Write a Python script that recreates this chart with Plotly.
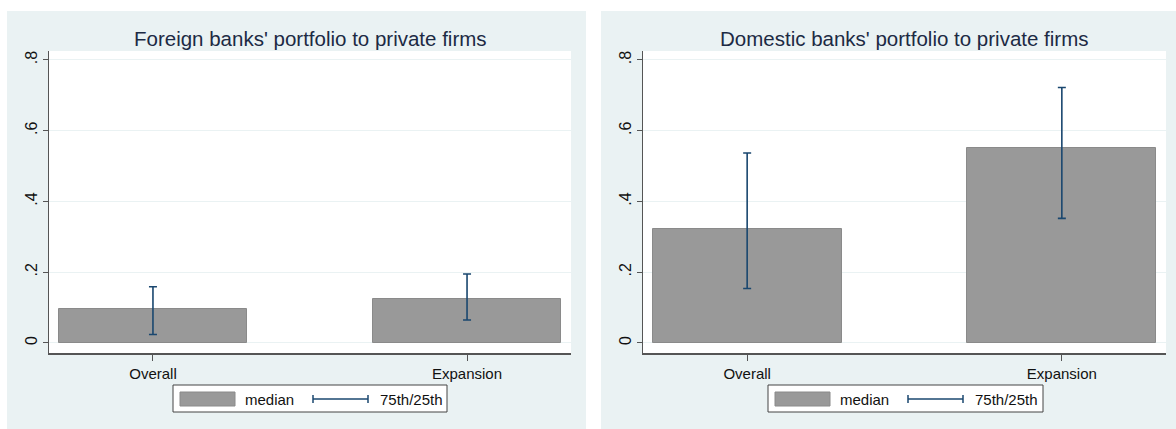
import plotly.graph_objects as go

# Portfolio share to private firms: median with 25th/75th percentiles
categories = ["Overall", "Expansion"]

foreign_median = [0.097, 0.125]
foreign_p25 = [0.024, 0.065]
foreign_p75 = [0.159, 0.195]

domestic_median = [0.322, 0.552]
domestic_p25 = [0.154, 0.352]
domestic_p75 = [0.537, 0.722]

y_tickvals = [0, 0.2, 0.4, 0.6, 0.8]
y_ticktext = ["0", ".2", ".4", ".6", ".8"]

panel_titles = ["Foreign banks' portfolio to private firms",
                "Domestic banks' portfolio to private firms"]

W, H = 1176, 429
FONT = "Liberation Sans, Arial, sans-serif"
BG = "#EAF2F3"
BAR = "#999999"
BAR_LINE = "#8a8a8a"
NAVY = "#1a476f"
AXIS = "#555555"


def px_x(x):
    return x / W


def px_y(y):
    return 1 - y / H


fig = go.Figure()

panels = [
    dict(bg=(7, 586), plot=(49, 571), med=foreign_median, lo=foreign_p25, hi=foreign_p75,
         legend=(173, 447)),
    dict(bg=(601, 1176), plot=(643, 1166), med=domestic_median, lo=domestic_p25, hi=domestic_p75,
         legend=(768, 1043)),
]

plot_top, plot_bot = 51, 353
shapes = []
annotations = []

for i, p in enumerate(panels):
    sfx = "" if i == 0 else str(i + 1)
    xa, ya = "x" + sfx, "y" + sfx

    # panel background
    shapes.append(dict(type="rect", xref="paper", yref="paper", layer="below",
                       x0=px_x(p["bg"][0]), x1=px_x(p["bg"][1]),
                       y0=px_y(429), y1=px_y(11), fillcolor=BG, line=dict(width=0)))

    fig.add_trace(go.Bar(
        x=[0, 1], y=p["med"], width=0.6,
        marker=dict(color=BAR, line=dict(color=BAR_LINE, width=1)),
        error_y=dict(type="data", symmetric=False,
                     array=[h - m for h, m in zip(p["hi"], p["med"])],
                     arrayminus=[m - l for m, l in zip(p["med"], p["lo"])],
                     color=NAVY, thickness=1.6, width=4),
        xaxis=xa, yaxis=ya, showlegend=False, hoverinfo="skip"))

    x0, x1 = p["plot"]
    fig.update_layout(**{
        "xaxis" + sfx: dict(domain=[px_x(x0), px_x(x1)], range=[-0.331, 1.331],
                            tickvals=[0, 1], ticktext=categories, ticks="outside",
                            ticklen=6, tickcolor=AXIS, tickwidth=1,
                            showline=True, linecolor=AXIS, linewidth=2,
                            showgrid=False, zeroline=False, anchor=ya,
                            tickfont=dict(family=FONT, size=15, color="#111111")),
        "yaxis" + sfx: dict(domain=[px_y(plot_bot), px_y(plot_top)], range=[-0.0283, 0.825],
                            tickvals=y_tickvals, ticktext=y_ticktext, tickangle=-90,
                            ticks="outside", ticklen=5, tickcolor=AXIS, tickwidth=1,
                            showline=True, linecolor=AXIS, linewidth=1,
                            showgrid=True, gridcolor=BG, gridwidth=1,
                            zeroline=False, anchor=xa,
                            tickfont=dict(family=FONT, size=16, color="#111111")),
    })

    # plot area background
    shapes.append(dict(type="rect", xref="paper", yref="paper", layer="below",
                       x0=px_x(x0), x1=px_x(x1), y0=px_y(plot_bot), y1=px_y(plot_top),
                       fillcolor="white", line=dict(width=0)))

    # panel title
    annotations.append(dict(text=panel_titles[i], xref="paper", yref="paper",
                            x=px_x((x0 + x1) / 2), y=px_y(38), xanchor="center",
                            yanchor="middle", showarrow=False,
                            font=dict(family=FONT, size=20.5, color="#1c2a44")))

    # legend box
    lx0, lx1 = p["legend"]
    shapes.append(dict(type="rect", xref="paper", yref="paper",
                       x0=px_x(lx0), x1=px_x(lx1), y0=px_y(412), y1=px_y(385),
                       fillcolor="white", line=dict(color="#444444", width=1)))
    shapes.append(dict(type="rect", xref="paper", yref="paper",
                       x0=px_x(lx0 + 7), x1=px_x(lx0 + 62), y0=px_y(406), y1=px_y(392),
                       fillcolor=BAR, line=dict(color=BAR_LINE, width=1)))
    annotations.append(dict(text="median", xref="paper", yref="paper",
                            x=px_x(lx0 + 70), y=px_y(399), xanchor="left", yanchor="middle",
                            showarrow=False, font=dict(family=FONT, size=15, color="#111111")))
    sx0, sx1 = lx0 + 140, lx0 + 195
    shapes.append(dict(type="line", xref="paper", yref="paper",
                       x0=px_x(sx0), x1=px_x(sx1), y0=px_y(399), y1=px_y(399),
                       line=dict(color=NAVY, width=1.5)))
    for sx in (sx0, sx1):
        shapes.append(dict(type="line", xref="paper", yref="paper",
                           x0=px_x(sx), x1=px_x(sx), y0=px_y(395), y1=px_y(403),
                           line=dict(color=NAVY, width=1.5)))
    annotations.append(dict(text="75th/25th", xref="paper", yref="paper",
                            x=px_x(lx0 + 205), y=px_y(399), xanchor="left", yanchor="middle",
                            showarrow=False, font=dict(family=FONT, size=15, color="#111111")))

fig.update_layout(
    width=W, height=H, margin=dict(l=0, r=0, t=0, b=0),
    paper_bgcolor="white", plot_bgcolor="rgba(0,0,0,0)",
    shapes=shapes, annotations=annotations, bargap=0,
    font=dict(family=FONT),
)

fig.write_html("out.html")
